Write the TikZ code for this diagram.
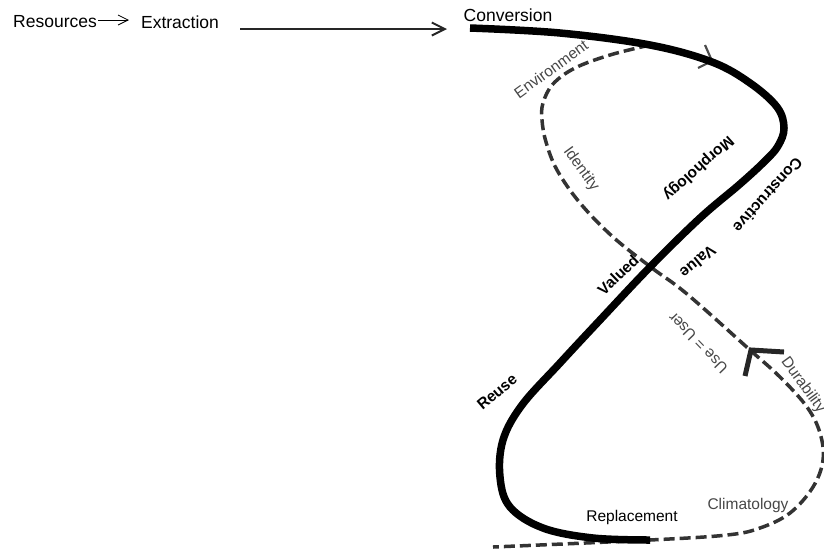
\documentclass[tikz,border=0pt]{standalone}
\usepackage{fontspec}
\setmainfont{Liberation Sans}
\usetikzlibrary{arrows.meta}
\begin{document}
\begin{tikzpicture}[x=1pt,y=-1pt,
  lbl/.style={inner sep=0pt, font=\fontsize{15.5}{16}\selectfont},
  glbl/.style={lbl, text=black!72},
  blbl/.style={inner sep=0pt, font=\fontsize{15.5}{16}\selectfont\bfseries},
  toplbl/.style={inner sep=0pt, font=\fontsize{17.5}{18}\selectfont},
  mainline/.style={line width=7.5pt, black},
  dashline/.style={line width=3.5pt, black!80, dash pattern=on 11pt off 5pt},
  markline/.style={line width=2.2pt, black!70},
]
\useasboundingbox (0,0) rectangle (824,550);
\clip (0,0) rectangle (824,550);

% top row
\node[toplbl] (res) at (55,22) {Resources};
\node[toplbl] (ext) at (180,22) {Extraction};
\coordinate (a1) at (98,20);
\coordinate (a2) at (129,20);
\draw[line width=0.8pt, -{Straight Barb[length=10pt,width=10pt]}] (a1) -- (a2);
\coordinate (b1) at (240,29);
\coordinate (b2) at (447,29);
\draw[line width=2pt, black!85, -{Straight Barb[length=13pt,width=13pt]}] (b1) -- (b2);

% dashed curve
\draw[dashline] plot[smooth, tension=0.6] coordinates {
  (650,45) (610,55) (575,68) (553,84) (543,103) (542,120) (546,142)
  (557,170) (580,203) (613,237) (652,268) (687,294) (750,350)
  (780,377) (807,407) (820,433) (823,460) (813,487) (790,513)
  (760,528) (727,535) (650,540) (493,547)};

% arrow marks
\draw[markline] (705,45) -- (712,61) -- (698,68);
\draw[line width=5pt, black!85] (784,352) -- (751,350) -- (745,376);

% main black curve
\draw[mainline] plot[smooth, tension=0.6] coordinates {
  (470,28) (560,33) (650,45) (712,62) (750,83) (777,107) (784,128)
  (778,146) (765,161) (740,184) (700,218) (650,267) (600,320)
  (560,363) (522,405) (503,440) (500,477) (510,507) (543,528)
  (593,538) (650,540)};

% labels
\node[toplbl] (conv) at (508,15) {Conversion};
\node[glbl, rotate=36] (env) at (551,69) {Environment};
\node[glbl, rotate=-54] (ident) at (581,169) {Identity};
\node[blbl, rotate=-138] (morph) at (698,168) {Morphology};
\node[blbl, rotate=-132] (constr) at (768,195) {Constructive};
\node[blbl, rotate=-141] (value) at (698,262) {Value};
\node[blbl, rotate=44] (valued) at (618,275) {Valued};
\node[glbl, rotate=134] (use) at (698,343) {Use = User};
\node[glbl, rotate=-54] (dur) at (803,385) {Durability};
\node[blbl, rotate=40] (reuse) at (497,392) {Reuse};
\node[lbl] (repl) at (632,517) {Replacement};
\node[glbl] (clim) at (748,505) {Climatology};
\end{tikzpicture}
\end{document}
